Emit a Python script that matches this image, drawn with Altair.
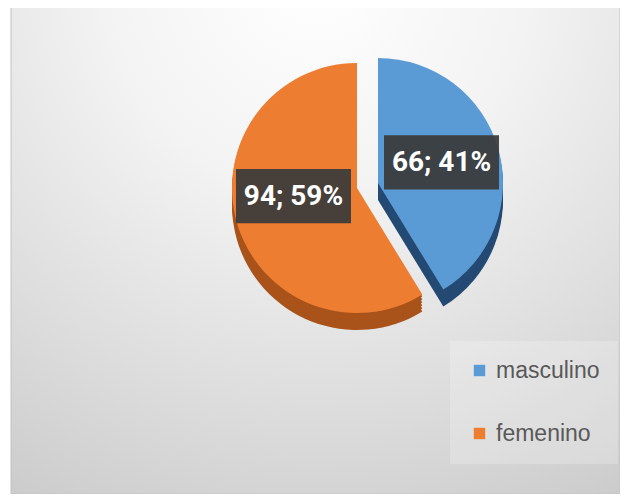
import altair as alt
import pandas as pd

# ---- data ----
categories = ["masculino", "femenino"]
counts = [66, 94]
order = [1, 2]
slice_colors = ["#5B9BD5", "#ED7D31"]
side_colors = ["#244A73", "#A9531A"]

W, H = 612, 486
R = 125
LABEL_RX = 66
# slice centres (the masculino slice is pulled out of the pie)
CENTERS = {"masculino": (370, 175), "femenino": (349, 180)}

df = pd.DataFrame({"sexo": categories, "n": counts, "ord": order})

cx_expr = f"datum.sexo == 'masculino' ? {CENTERS['masculino'][0]} : {CENTERS['femenino'][0]}"
cy_expr = f"datum.sexo == 'masculino' ? {CENTERS['masculino'][1]} : {CENTERS['femenino'][1]}"
ry_expr = "datum.sexo == 'masculino' ? 76 : 30"

base = alt.Chart(df)

# background panel with a soft radial gradient
bg = alt.Chart(pd.DataFrame({"a": [0]})).mark_rect(
    color=alt.RadialGradient(
        gradient="radial",
        stops=[alt.GradientStop(color="#ffffff", offset=0),
               alt.GradientStop(color="#f3f3f3", offset=0.35),
               alt.GradientStop(color="#cbcbcb", offset=1)],
        x1=0.5, y1=0.05, r1=0, x2=0.5, y2=0.05, r2=1.0,
    ),
    stroke="#c2c2c2", strokeWidth=1,
).encode(x=alt.value(3), x2=alt.value(W), y=alt.value(-2), y2=alt.value(H))

color_scale = alt.Scale(domain=categories, range=slice_colors)


def slice_layer(cat, dy, top):
    cx, cy = CENTERS[cat]
    enc = dict(
        theta=alt.Theta("n:Q", stack=True),
        order=alt.Order("ord:Q"),
        opacity=alt.condition(f"datum.sexo == '{cat}'", alt.value(1), alt.value(0)),
    )
    if top:
        enc["color"] = alt.Color(
            "sexo:N", scale=color_scale,
            legend=alt.Legend(
                title=None, orient="none", legendX=442, legendY=333,
                symbolType="square", symbolSize=130, symbolOpacity=1,
                symbolStrokeWidth=0, labelFontSize=23, labelColor="#595959",
                labelFont="Liberation Sans", rowPadding=39, padding=18,
                labelOffset=5, fillColor="rgba(255,255,255,0.22)",
            ),
        )
    else:
        i = categories.index(cat)
        enc["color"] = alt.value(side_colors[i])
    return base.mark_arc(radius=R, x=cx, y=cy + dy, strokeWidth=0).encode(**enc)


layers = [bg]
for cat in ["femenino", "masculino"]:
    for dy in [17, 14, 11, 8, 5, 2]:
        layers.append(slice_layer(cat, dy, False))
    layers.append(slice_layer(cat, 0, True))

# label positions computed from the stacked angles
lab = base.transform_joinaggregate(total="sum(n)").transform_window(
    cum="sum(n)", sort=[alt.SortField("ord")], frame=[None, 0]
).transform_calculate(
    mid="(datum.cum - datum.n / 2) / datum.total * 2 * PI",
    cx=cx_expr, cy=cy_expr, ry=ry_expr,
).transform_calculate(
    lx=f"datum.cx + {LABEL_RX} * sin(datum.mid)",
    ly="datum.cy - datum.ry * cos(datum.mid)",
    label="datum.n + '; ' + round(datum.n / datum.total * 100) + '%'",
)

boxes = lab.mark_point(
    shape="M-1,-0.47L1,-0.47L1,0.47L-1,0.47Z", size=115 * 115,
    filled=True, color="#3a3a3a", opacity=0.93, strokeWidth=0,
).encode(x=alt.X("lx:Q", scale=None), y=alt.Y("ly:Q", scale=None))

texts = lab.mark_text(
    font="Roboto", fontSize=28, fontWeight="bold",
    color="white", align="center", baseline="middle", dy=1,
).encode(x=alt.X("lx:Q", scale=None), y=alt.Y("ly:Q", scale=None), text="label:N")

layers += [boxes, texts]

chart = alt.layer(*layers).properties(
    width=W, height=H, padding=0, autosize=alt.AutoSizeParams(type="none"),
    background="white",
).configure_view(stroke=None)

chart.save("out.html", embed_options={"renderer": "svg", "actions": False})
